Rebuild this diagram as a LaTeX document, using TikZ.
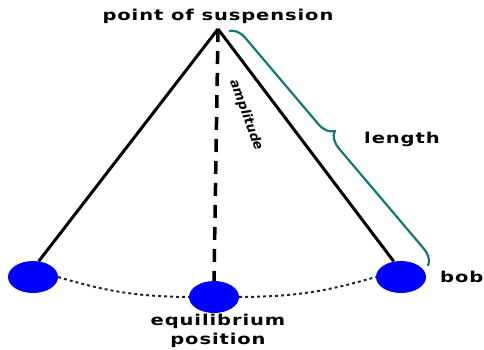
\documentclass[tikz,border=0pt]{standalone}
\usepackage{fontspec}
\setmainfont{DejaVu Sans}
\newfontfamily\widefont[FakeStretch=1.3, LetterSpace=6]{DejaVu Sans}
\usetikzlibrary{decorations.pathreplacing,shapes.geometric}
\definecolor{bobblue}{RGB}{0,0,255}
\definecolor{braceteal}{RGB}{20,120,120}
\tikzset{
  bobnode/.style={ellipse, fill=bobblue, minimum width=50pt, minimum height=32pt, inner sep=0pt},
  rod/.style={line width=3pt, black},
  lbl/.style={font=\widefont\fontsize{15}{19}\selectfont\bfseries, inner sep=0pt},
  arcdots/.style={line width=2pt, dash pattern=on 3pt off 3pt, black!85},
}
\begin{document}
\begin{tikzpicture}[x=1pt,y=-1pt]
\useasboundingbox (0,0) rectangle (484,349);
\coordinate (pivot) at (218,29);
\node[bobnode] (lb) at (33,277) {};
\node[bobnode] (cb) at (214,297) {};
\node[bobnode] (rb) at (401,277) {};
\draw[rod] (pivot) -- (lb.70);
\draw[rod] (pivot) -- (rb.115);
\draw[line width=3.5pt, dash pattern=on 13pt off 9pt] (pivot) -- (cb.north);
\draw[arcdots] (lb.east) to[bend right=8] (cb.west);
\draw[arcdots] (cb.east) to[bend right=8] (rb.west);
\node[lbl, anchor=south] (pos) at (218,24) {point of suspension};
\node[rotate=-70, inner sep=0pt, font=\fontsize{13}{13}\selectfont\bfseries\itshape] (amp) at (246,115) {amplitude};
\coordinate (bs) at (229,31);
\coordinate (be) at (428,266);
\draw[braceteal, line width=2.2pt, decorate, decoration={brace, amplitude=16pt, aspect=0.47}] (bs) -- (be);
\node[lbl, anchor=west] (len) at (364,139) {length};
\node[lbl, anchor=west] (bob) at (440,277) {bob};
\node[lbl, align=center, anchor=north] (eq) at (218,314) {equilibrium\\position};
\end{tikzpicture}
\end{document}
